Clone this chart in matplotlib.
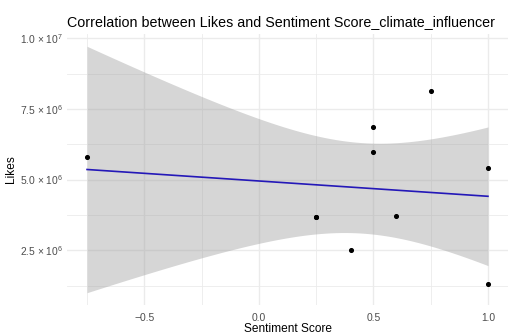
import numpy as np
import matplotlib
matplotlib.use("Agg")
import matplotlib.pyplot as plt

plt.rcParams["font.family"] = ["Liberation Sans", "DejaVu Sans"]
plt.rcParams["mathtext.fontset"] = "custom"
plt.rcParams["mathtext.rm"] = "Liberation Sans"
plt.rcParams["mathtext.it"] = "Liberation Sans:italic"

# sentiment score vs likes per post
sentiment = [-0.75, 0.25, 0.25, 0.4, 0.5, 0.5, 0.6, 0.75, 1.0, 1.0]
likes = [5.79e6, 3.68e6, 3.68e6, 2.50e6, 6.87e6, 5.99e6, 3.71e6, 8.13e6, 5.40e6, 1.31e6]

x_ticks = [-0.5, 0.0, 0.5, 1.0]
x_tick_labels = ["\u22120.5", "0.0", "0.5", "1.0"]
y_ticks = [2.5e6, 5.0e6, 7.5e6, 1.0e7]
y_tick_labels = ["2.5 \u00d7 10$^{6}$", "5.0 \u00d7 10$^{6}$",
                 "7.5 \u00d7 10$^{6}$", "1.0 \u00d7 10$^{7}$"]

x = np.array(sentiment)
y = np.array(likes)
n = len(x)

# linear fit with 95% confidence band (like geom_smooth(method = "lm"))
slope, intercept = np.polyfit(x, y, 1)
resid = y - (slope * x + intercept)
s = np.sqrt(np.sum(resid ** 2) / (n - 2))
sxx = np.sum((x - x.mean()) ** 2)
t_crit = 2.306  # t(0.975, df = 8)
xs = np.linspace(x.min(), x.max(), 80)
fit = slope * xs + intercept
half = t_crit * s * np.sqrt(1 / n + (xs - x.mean()) ** 2 / sxx)
lo, hi = fit - half, fit + half

fig = plt.figure(figsize=(5.10, 3.36), dpi=100)
ax = fig.add_axes([67 / 510, 31 / 336, 441 / 510, 271 / 336])

grid_col = "#EBEBEB"
for side in ax.spines.values():
    side.set_visible(False)

ax.fill_between(xs, lo, hi, color="#999999", alpha=0.4, linewidth=0, zorder=2)
ax.plot(xs, fit, color="#2418B8", linewidth=1.2, zorder=3)
ax.scatter(x, y, s=7, color="black", zorder=4)

xr = x.max() - x.min()
ax.set_xlim(x.min() - 0.05 * xr, x.max() + 0.05 * xr)
ymin, ymax = min(lo.min(), y.min()), max(hi.max(), y.max())
yr = ymax - ymin
ax.set_ylim(ymin - 0.05 * yr, ymax + 0.05 * yr)

ax.set_xticks(x_ticks)
ax.set_xticklabels(x_tick_labels)
ax.set_yticks(y_ticks)
ax.set_yticklabels(y_tick_labels)
ax.set_xticks([-0.75, -0.25, 0.25, 0.75], minor=True)
ax.set_yticks([1.25e6, 3.75e6, 6.25e6, 8.75e6], minor=True)
ax.grid(which="major", color=grid_col, linewidth=1.0, zorder=0)
ax.grid(which="minor", color=grid_col, linewidth=0.6, zorder=0)
ax.tick_params(which="both", length=0)
ax.tick_params(axis="x", labelsize=7.4, labelcolor="#4D4D4D", pad=6)
ax.tick_params(axis="y", labelsize=7.4, labelcolor="#4D4D4D", pad=3)

ax.set_xlabel("Sentiment Score", fontsize=8.6, labelpad=0)
ax.set_ylabel("Likes", fontsize=8.6, labelpad=2)
ax.set_title("Correlation between Likes and Sentiment Score_climate_influencer",
             fontsize=10.3, loc="left", pad=6)

fig.savefig("out.png", dpi=100, facecolor="white")
